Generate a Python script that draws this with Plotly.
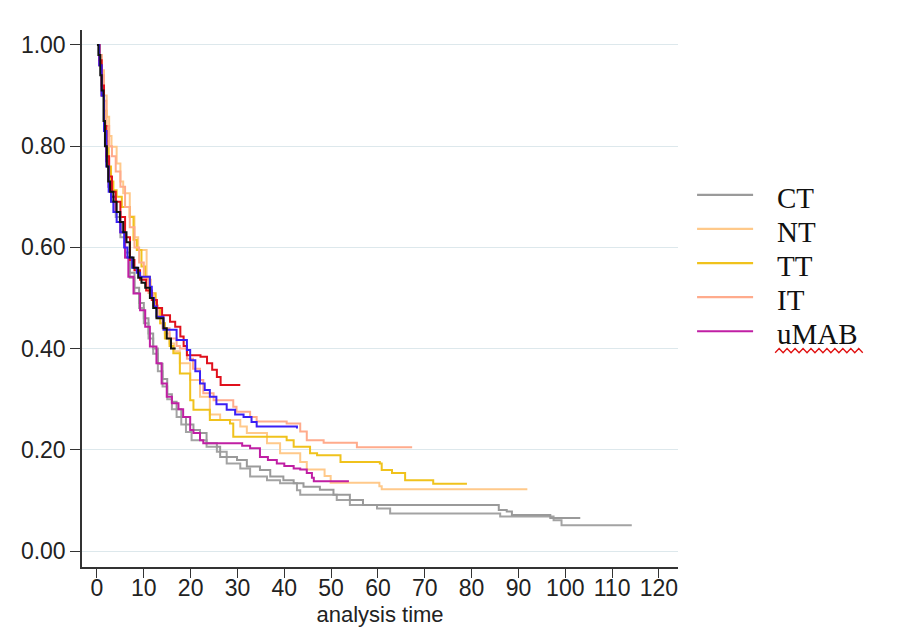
import plotly.graph_objects as go

# ---- data (Kaplan-Meier step curves) ----
ct_a_t = [0, 0.5, 1, 1.5, 2, 2.5, 3, 4, 5, 6, 7, 8, 9, 10, 11, 12, 13, 14, 15, 16, 17, 18, 19, 20.6, 22, 23.4,
          25.6, 26.3, 29.9, 32, 34.8, 37, 39.8, 42, 44.1, 47.6, 50.5, 54, 56.8, 85.8, 87.5, 88.6, 96.8, 103.2]
ct_a_s = [1.0, 0.96, 0.90, 0.83, 0.77, 0.72, 0.70, 0.67, 0.63, 0.59, 0.55, 0.52, 0.49, 0.46, 0.43, 0.40, 0.37,
          0.34, 0.31, 0.295, 0.28, 0.265, 0.25, 0.239, 0.233, 0.213, 0.206, 0.186, 0.18, 0.167, 0.16, 0.147, 0.14,
          0.134, 0.127, 0.121, 0.111, 0.101, 0.091, 0.081, 0.078, 0.071, 0.065, 0.065]

ct_b_t = [0, 0.5, 1, 1.5, 2, 2.5, 3, 4, 5, 6, 7, 8, 9, 10, 11, 12, 13, 14, 15, 16, 17, 18, 19, 20.2, 23.4, 25.6,
          27.7, 30.6, 32.7, 36.3, 39.1, 42.7, 43.4, 51.2, 54, 59.8, 62.6, 86.1, 97.5, 99.2, 114.2]
ct_b_s = [1.0, 0.96, 0.90, 0.83, 0.77, 0.72, 0.69, 0.66, 0.62, 0.58, 0.54, 0.51, 0.48, 0.45, 0.42, 0.39, 0.355,
          0.325, 0.30, 0.28, 0.265, 0.25, 0.235, 0.219, 0.206, 0.196, 0.173, 0.163, 0.147, 0.14, 0.134, 0.12, 0.111,
          0.101, 0.091, 0.084, 0.074, 0.068, 0.061, 0.051, 0.051]

nt_t = [0, 0.5, 1, 1.5, 2.07, 2.6, 3.1, 4.2, 5, 5.6, 7, 8, 8.8, 10.6, 11.5, 12.5, 13.5, 14.5, 15.5, 16.5, 17.7,
        19.9, 22, 24.1, 26.3, 30.6, 32, 36.3, 39.1, 43.4, 44.8, 48.6, 49.9, 60.3, 60.8, 91.9]
nt_s = [1.0, 0.98, 0.95, 0.90, 0.858, 0.82, 0.799, 0.766, 0.73, 0.707, 0.661, 0.62, 0.595, 0.536, 0.51, 0.48,
        0.45, 0.43, 0.41, 0.395, 0.371, 0.338, 0.305, 0.27, 0.259, 0.246, 0.233, 0.213, 0.193, 0.176, 0.161,
        0.148, 0.135, 0.128, 0.122, 0.122]

tt_t = [0, 0.5, 1, 1.5, 2, 2.5, 3, 3.5, 4.2, 5.3, 7, 7.8, 8.5, 9.5, 10.3, 11.3, 12.5, 13.5, 14.5, 15.5, 16.3,
        17.7, 19.9, 20.6, 24.1, 28.4, 29.1, 40.5, 42, 45.5, 47, 52, 60.4, 60.8, 63, 65.8, 71.8, 79]
tt_s = [1.0, 0.97, 0.93, 0.87, 0.81, 0.76, 0.73, 0.713, 0.70, 0.68, 0.66, 0.615, 0.595, 0.562, 0.542, 0.509,
        0.48, 0.45, 0.42, 0.405, 0.391, 0.351, 0.298, 0.279, 0.259, 0.252, 0.226, 0.219, 0.206, 0.193, 0.189,
        0.176, 0.173, 0.16, 0.154, 0.14, 0.133, 0.133]

it_t = [0, 0.5, 1, 1.5, 2, 2.6, 3.2, 4, 5, 6, 7, 8, 9, 10, 11, 12, 13, 14, 15.5, 17, 17.7, 19.2, 20.5, 22, 22.7,
        24.9, 29.1, 29.8, 32.7, 34.1, 40.5, 43.4, 44.8, 48.4, 55.5, 67.3]
it_s = [1.0, 0.98, 0.94, 0.89, 0.84, 0.80, 0.78, 0.75, 0.72, 0.68, 0.64, 0.60, 0.57, 0.54, 0.51, 0.485, 0.46,
        0.44, 0.42, 0.405, 0.40, 0.38, 0.36, 0.338, 0.312, 0.298, 0.285, 0.275, 0.265, 0.256, 0.252, 0.236,
        0.219, 0.214, 0.205, 0.205]

umab_t = [0, 0.5, 1, 1.5, 2, 2.5, 3, 4, 5, 6, 6.7, 7.8, 9.2, 10.3, 11.3, 12.7, 13.8, 14.9, 16, 17.4, 18.4, 19.9,
          20.6, 22, 22.7, 29.1, 31, 32.7, 34.8, 36.5, 38.4, 40, 42, 43.4, 44.8, 45.9, 46.3, 53.8]
umab_s = [1.0, 0.96, 0.90, 0.83, 0.77, 0.72, 0.70, 0.67, 0.63, 0.58, 0.542, 0.509, 0.476, 0.443, 0.404, 0.371,
          0.331, 0.305, 0.292, 0.28, 0.265, 0.239, 0.233, 0.219, 0.213, 0.213, 0.208, 0.203, 0.186, 0.18, 0.173,
          0.168, 0.163, 0.161, 0.154, 0.145, 0.138, 0.138]

red_t = [0, 0.5, 1, 1.5, 2, 2.6, 3.2, 4, 5, 6, 7.05, 8, 9.2, 10.5, 11.7, 12.8, 13.9, 15.6, 16.7, 17.8, 18.5,
         19.2, 22.1, 23.5, 24.6, 25.6, 26.4, 30.6]
red_s = [1.0, 0.97, 0.92, 0.84, 0.78, 0.74, 0.71, 0.69, 0.66, 0.62, 0.575, 0.555, 0.536, 0.515, 0.496, 0.48,
         0.466, 0.453, 0.443, 0.424, 0.405, 0.387, 0.384, 0.371, 0.358, 0.344, 0.328, 0.328]

blue_t = [0, 0.5, 1, 1.5, 2, 2.5, 3, 3.5, 4.2, 5, 5.8, 6.5, 7.5, 8.5, 9.2, 11.3, 11.7, 12.2, 12.7, 14.2, 17,
          19.2, 19.9, 21, 22, 23, 24.1, 25.5, 27.7, 29.5, 31.3, 33, 34.1, 42.7]
blue_s = [1.0, 0.96, 0.90, 0.83, 0.76, 0.71, 0.69, 0.67, 0.65, 0.63, 0.60, 0.58, 0.56, 0.55, 0.542, 0.522, 0.50,
          0.483, 0.463, 0.437, 0.417, 0.397, 0.377, 0.355, 0.331, 0.318, 0.305, 0.29, 0.279, 0.27, 0.265, 0.255,
          0.246, 0.242]

black_t = [0, 0.3, 0.7, 1.0, 1.4, 1.7, 2.1, 2.4, 2.8, 3.5, 4.2, 4.9, 5.6, 6.3, 7.0, 7.8, 8.8, 9.5, 10.3, 11.3,
           12.0, 12.7, 14.2, 14.9, 15.8, 16.8]
black_s = [1.0, 0.98, 0.94, 0.91, 0.85, 0.80, 0.76, 0.73, 0.71, 0.69, 0.67, 0.65, 0.63, 0.61, 0.58, 0.56, 0.54,
           0.53, 0.52, 0.50, 0.48, 0.46, 0.44, 0.42, 0.40, 0.40]

x_ticks = [0, 10, 20, 30, 40, 50, 60, 70, 80, 90, 100, 110, 120]
y_ticks = [0.0, 0.2, 0.4, 0.6, 0.8, 1.0]
legend_labels = ["CT", "NT", "TT", "IT", "uMAB"]

# ---- figure ----
series = [
    # (name, t, s, color)
    ("CT", ct_b_t, ct_b_s, "#a3a3a3"),
    ("CT", ct_a_t, ct_a_s, "#9a9a9a"),
    ("NT", nt_t, nt_s, "#ffc98a"),
    ("TT", tt_t, tt_s, "#f0c21c"),
    ("IT", it_t, it_s, "#ffab8c"),
    ("uMAB", umab_t, umab_s, "#c01fa4"),
    ("red", red_t, red_s, "#e0101c"),
    ("blue", blue_t, blue_s, "#3a1ff5"),
    ("black", black_t, black_s, "#111111"),
]
color_of = {name: col for name, _, _, col in series}

fig = go.Figure()
for name, t, s, col in series:
    fig.add_trace(go.Scatter(
        x=t, y=s, mode="lines", name=name, line=dict(color=col, width=2, shape="hv"),
        showlegend=False, hoverinfo="skip"))

# legend drawn to the right of the plot (paper coordinates)
leg_x0, leg_x1, leg_text_x = 1.032, 1.126, 1.162
leg_y_top, leg_step = 0.693, 0.0635
for i, lab in enumerate(legend_labels):
    yy = leg_y_top - i * leg_step
    fig.add_shape(type="line", xref="paper", yref="paper", x0=leg_x0, x1=leg_x1, y0=yy, y1=yy,
                  line=dict(color=color_of[lab], width=2.2))
    fig.add_annotation(x=leg_text_x, y=yy - 0.006, xref="paper", yref="paper", text=lab,
                       showarrow=False, xanchor="left", yanchor="middle",
                       font=dict(family="Liberation Serif, Times New Roman, serif", size=29, color="#111111"))

# spell-check style wavy underline beneath the last legend label
wy = leg_y_top - (len(legend_labels) - 1) * leg_step - 0.036
wx0, wx1, nw = 1.163, 1.31, 22
pts = []
for k in range(nw + 1):
    xx = wx0 + (wx1 - wx0) * k / nw
    pts.append(f"{'M' if k == 0 else 'L'} {xx:.4f} {wy + (0.004 if k % 2 else -0.004):.4f}")
fig.add_shape(type="path", xref="paper", yref="paper", path=" ".join(pts),
              line=dict(color="#e01010", width=1.3))

axis_col = "#333333"
fig.update_layout(
    width=900, height=636,
    margin=dict(l=74, r=230, t=22, b=77),
    paper_bgcolor="white", plot_bgcolor="white",
    font=dict(family="Liberation Sans, Arial, sans-serif", size=23, color="#222222"),
    showlegend=False,
    xaxis=dict(
        range=[-3.2, 124.07], tickmode="array", tickvals=x_ticks,
        showgrid=False, zeroline=False, showline=True, linecolor=axis_col, linewidth=1.5,
        ticks="outside", ticklen=9, tickwidth=1.3, tickcolor=axis_col,
        ticklabelstandoff=-9,
        tickfont=dict(size=23, color="#222222"),
        title=dict(text="analysis time", font=dict(size=22, color="#222222"), standoff=6),
    ),
    yaxis=dict(
        range=[-0.0316, 1.0296], tickmode="array", tickvals=y_ticks, tickformat=".2f",
        showgrid=True, gridcolor="#dde8ec", gridwidth=1.3, zeroline=False,
        showline=True, linecolor=axis_col, linewidth=1.5,
        ticks="outside", ticklen=10, tickwidth=1.3, tickcolor=axis_col,
        tickfont=dict(size=23, color="#222222"),
    ),
)

fig.write_html("out.html")
